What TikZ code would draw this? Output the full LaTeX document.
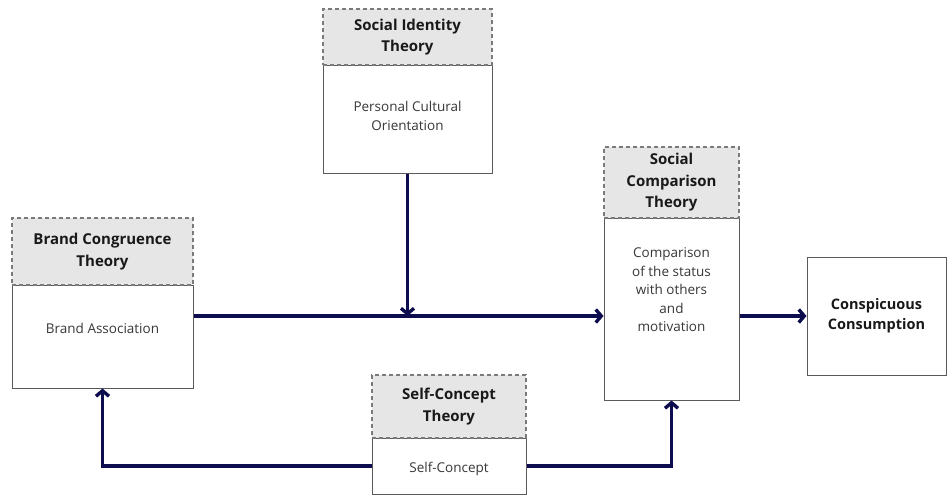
\documentclass[tikz,border=0pt]{standalone}
\usepackage{fontspec}
\setmainfont{Open Sans}
\usetikzlibrary{arrows.meta}
\definecolor{navy}{HTML}{0C0C4E}
\definecolor{hdrfill}{HTML}{E6E6E6}
\definecolor{hdrline}{HTML}{7A7A7A}
\definecolor{boxline}{HTML}{5A5A5A}
\definecolor{bodytxt}{HTML}{383838}
\tikzset{
  hdr/.style={draw=hdrline, fill=hdrfill, dashed, dash pattern=on 4pt off 3pt, line width=1.1pt, inner sep=0pt, font=\fontsize{15}{21.5}\selectfont\bfseries, text=black!90, align=center},
  bodybox/.style={draw=boxline, line width=1pt, fill=white, inner sep=0pt},
  bodytext/.style={font=\fontsize{13.5}{18.5}\selectfont, text=bodytxt, align=center, inner sep=0pt},
  arr/.style={draw=navy, line width=3.8pt, -{Straight Barb[length=5.5pt,width=13pt,line width=3.4pt]}},
}
\begin{document}
\begin{tikzpicture}[x=1pt,y=-1pt]
\useasboundingbox (0,0) rectangle (949,495);
% Brand Congruence
\node[bodybox, minimum width=181pt, minimum height=103pt] (bcb) at (102.5,336.5) {};
\node[hdr, minimum width=181pt, minimum height=67pt] (bch) at (102.5,251.5) {Brand Congruence\\Theory};
\node[bodytext] (bct) at (102.5,328) {Brand Association};
% Social Identity
\node[bodybox, minimum width=169pt, minimum height=108pt] (sib) at (407.5,119) {};
\node[hdr, minimum width=169pt, minimum height=56pt] (sih) at (407.5,37) {Social Identity\\Theory};
\node[bodytext] (sit) at (407.5,116) {Personal Cultural\\Orientation};
% Social Comparison
\node[bodybox, minimum width=135pt, minimum height=182pt] (scb) at (671.5,309) {};
\node[hdr, minimum width=135pt, minimum height=71pt] (sch) at (671.5,182.5) {Social\\Comparison\\Theory};
\node[bodytext] (sct) at (671.5,290) {Comparison\\of the status\\with others\\and\\motivation};
% Self-Concept
\node[bodybox, minimum width=154pt, minimum height=56pt] (spb) at (449,466) {};
\node[hdr, minimum width=154pt, minimum height=63pt] (sph) at (449,406.5) {Self-Concept\\Theory};
\node[bodytext] (spt) at (449,469) {Self-Concept};
% Conspicuous Consumption
\node[bodybox, minimum width=139pt, minimum height=118pt, font=\fontsize{14.5}{20}\selectfont\bfseries, text=black!90, align=center] (cc) at (876.5,316) {Conspicuous\\Consumption};
% connectors
\coordinate (hy) at (0,316);
\draw[arr] (bcb.east |- hy) -- (scb.west |- hy);
\draw[arr] (sib.south) -- (sib.south |- hy);
\draw[arr] (scb.east |- cc.west) -- (cc.west);
\draw[arr] (spb.west) -| (bcb.south);
\draw[arr] (spb.east) -| (scb.south);
\end{tikzpicture}
\end{document}
